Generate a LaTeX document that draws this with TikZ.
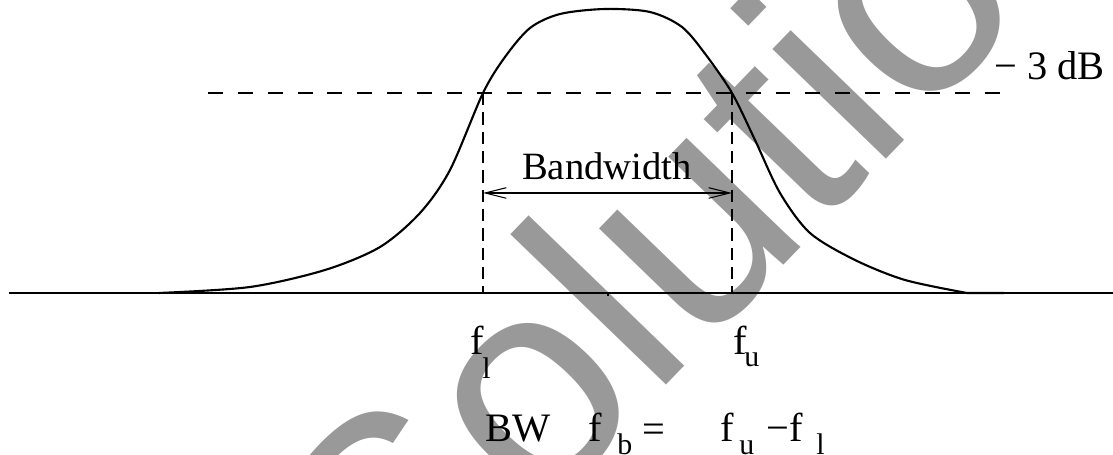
\documentclass[tikz,border=0pt]{standalone}
\usepackage{fontspec}
\setmainfont{Liberation Serif}
\newfontfamily\wmfont{Liberation Sans}
\usetikzlibrary{arrows.meta, positioning, calc}

\begin{document}
\begin{tikzpicture}[
        x=0.02cm, y=-0.02cm,
        curve/.style={line width=1.2pt, line join=round},
        axis/.style={line width=0.6pt},
        level/.style={line width=1.1pt, dash pattern=on 8.5pt off 8.5pt},
        marker/.style={line width=0.6pt, dash pattern=on 7pt off 4pt},
        barb/.tip={Straight Barb[length=12pt, width=6pt]},
        span/.style={barb-barb, line width=0.6pt},
        lbl/.style={inner sep=0, anchor=base west, font=\fontsize{23}{26}\selectfont},
        sub/.style={inner sep=0, anchor=base west, font=\fontsize{17}{19}\selectfont},
        watermark/.style={inner sep=0, anchor=base west, text=black!40, font=\wmfont\fontsize{170}{170}\selectfont}
    ]
        \useasboundingbox (0,0) rectangle (1113,455);
        \clip (0,0) rectangle (1113,455);

        % watermark behind the plot
        \node[watermark, rotate=46] (wm) at (399,663) {Solutions};

        \coordinate (axL) at (9,293);
        \coordinate (axR) at (1113,293);
        \coordinate (lvL) at (208,93);
        \coordinate (lvR) at (1000,93);
        \coordinate (lo) at (483,93);
        \coordinate (hi) at (732,93);
        \coordinate (lo0) at (483,293);
        \coordinate (hi0) at (732,293);
        \coordinate (bwL) at (483,193);
        \coordinate (bwR) at (732,193);

        \draw[axis] (axL) -- (axR);
        \draw[axis] (608,293) -- (608,296);
        \draw[level] (lvL) -- (lvR);
        \draw[marker] (lo) -- (lo0);
        \draw[marker] (hi) -- (hi0);

        \draw[curve] plot[smooth, tension=0.5] coordinates {
            (159,293) (250,287) (325,270) (380,247) (420,213) (450,170)
            (483,93) (505,57) (530,28) (560,14) (605,9) (650,12) (682,27)
            (706,55) (732,93) (755,140) (780,193) (810,233) (855,260)
            (905,280) (967,293)} -- (1004,293);

        \draw[span] (bwL) -- (bwR);
        \node[inner sep=0, anchor=base, font=\fontsize{22}{24}\selectfont] (bwtext) at (607,180) {Bandwidth};

        \node[lbl] (db) at (994,80) {− 3 dB};

        \node[lbl] (fl) at (470,355) {f};
        \node[sub] (flsub) at (482,379) {l};
        \node[lbl] (fu) at (733,355) {f};
        \node[sub] (fusub) at (744,367) {u};

        % BW relation
        \node[lbl] (bw) at (485,442) {BW};
        \node[lbl] (fb) at (588,442) {f};
        \node[sub] (fbsub) at (617,455) {b};
        \node[lbl] (eq) at (642,443) {=};
        \node[lbl] (fu2) at (720,442) {f};
        \node[sub] (fu2sub) at (739,455) {u};
        \node[lbl] (minus) at (766,442) {−f};
        \node[sub] (fl2sub) at (816,455) {l};
\end{tikzpicture}
\end{document}
